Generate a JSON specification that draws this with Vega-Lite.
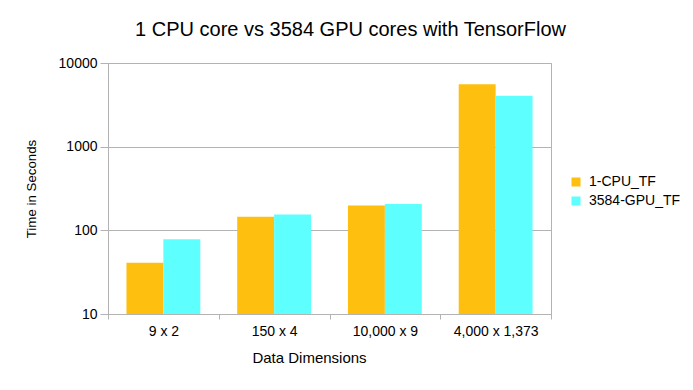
{
  "$schema": "https://vega.github.io/schema/vega-lite/v6.json",
  "width": 443,
  "height": 251,
  "autosize": {"type": "none"},
  "padding": {"left": 108, "top": 63, "right": 142, "bottom": 76},
  "background": "white",
  "title": {
    "text": "1 CPU core vs 3584 GPU cores with TensorFlow",
    "fontSize": 20,
    "font": "Liberation Sans",
    "fontWeight": "normal",
    "color": "#000000",
    "anchor": "middle",
    "dx": 21,
    "offset": 16
  },
  "config": {
    "font": "Liberation Sans",
    "view": {"stroke": "#b3b3b3", "strokeWidth": 1}
  },
  "data": {
    "values": [
      {"dim": "9 x 2", "series": "1-CPU_TF", "time": 41},
      {"dim": "9 x 2", "series": "3584-GPU_TF", "time": 78},
      {"dim": "150 x 4", "series": "1-CPU_TF", "time": 145},
      {"dim": "150 x 4", "series": "3584-GPU_TF", "time": 155},
      {"dim": "10,000 x 9", "series": "1-CPU_TF", "time": 198},
      {"dim": "10,000 x 9", "series": "3584-GPU_TF", "time": 206},
      {"dim": "4,000 x 1,373", "series": "1-CPU_TF", "time": 5560},
      {"dim": "4,000 x 1,373", "series": "3584-GPU_TF", "time": 4070}
    ]
  },
  "mark": {"type": "bar"},
  "encoding": {
    "x": {
      "field": "dim",
      "type": "nominal",
      "sort": ["9 x 2", "150 x 4", "10,000 x 9", "4,000 x 1,373"],
      "scale": {"paddingInner": 0, "paddingOuter": 0},
      "axis": {
        "title": "Data Dimensions",
        "titleFontSize": 15,
        "titleFontWeight": "normal",
        "titleColor": "#000000",
        "titleX": 201,
        "titleY": 48,
        "titleBaseline": "alphabetic",
        "labelAngle": 0,
        "labelFontSize": 14,
        "labelColor": "#000000",
        "labelPadding": 5,
        "tickBand": "extent",
        "tickSize": 5,
        "tickColor": "#b3b3b3",
        "domainColor": "#b3b3b3",
        "grid": false
      }
    },
    "xOffset": {
      "field": "series",
      "type": "nominal",
      "scale": {"paddingInner": 0, "paddingOuter": 0.5}
    },
    "y": {
      "field": "time",
      "type": "quantitative",
      "scale": {"type": "log", "domain": [10, 10000], "nice": false},
      "axis": {
        "title": "Time in Seconds",
        "titleFontSize": 13.3,
        "titleFontWeight": "normal",
        "titleColor": "#000000",
        "titlePadding": 20,
        "values": [10, 100, 1000, 10000],
        "format": "d",
        "labelFontSize": 14,
        "labelColor": "#000000",
        "labelPadding": 3,
        "tickSize": 8,
        "tickColor": "#b3b3b3",
        "domainColor": "#b3b3b3",
        "gridColor": "#b3b3b3",
        "gridOpacity": 1
      }
    },
    "y2": {"datum": 10},
    "color": {
      "field": "series",
      "type": "nominal",
      "scale": {"domain": ["1-CPU_TF", "3584-GPU_TF"], "range": ["#ffbf0f", "#5effff"]},
      "legend": {
        "title": null,
        "orient": "none",
        "legendX": 461,
        "legendY": 112,
        "symbolType": "square",
        "symbolSize": 81,
        "symbolStrokeWidth": 0,
        "symbolOpacity": 1,
        "labelFontSize": 14,
        "labelColor": "#000000",
        "labelOffset": 6,
        "rowPadding": 5,
        "padding": 0
      }
    }
  }
}
